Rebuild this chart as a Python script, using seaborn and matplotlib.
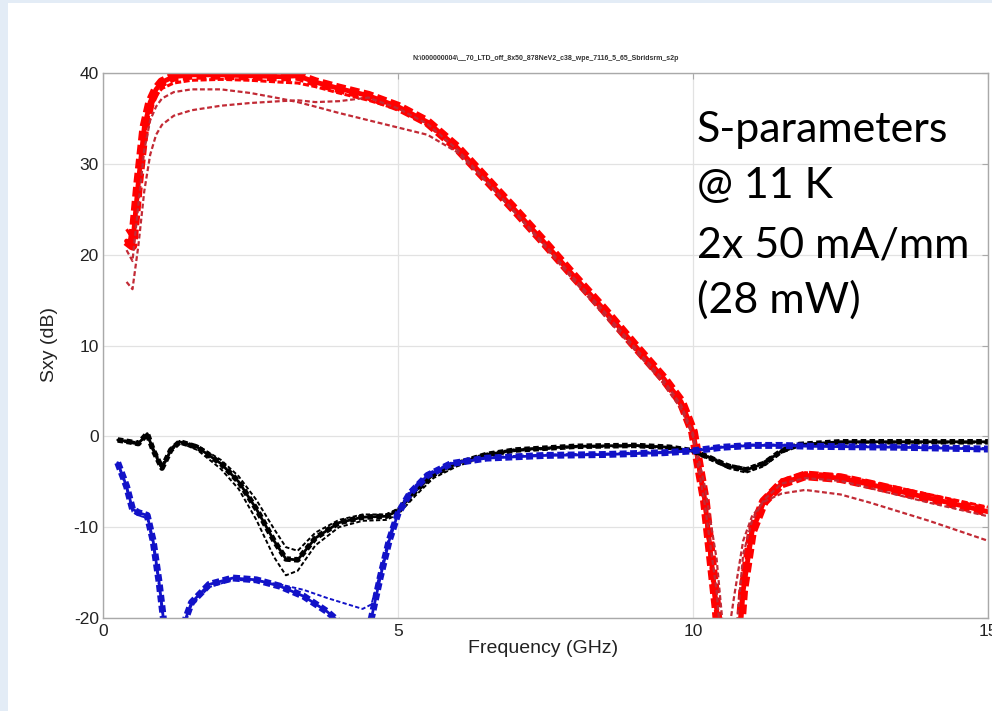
import matplotlib
matplotlib.use("Agg")
import matplotlib.pyplot as plt
import seaborn as sns
from matplotlib.patches import Rectangle

# Data (Frequency in GHz, S-parameters in dB)
freq_s21 = [0.40, 0.50, 0.60, 0.70, 0.80, 0.90, 1.00, 1.20, 1.50, 2.00,
            2.50, 3.00, 3.30, 3.60, 4.00, 4.50, 5.00, 5.50, 6.00, 6.50,
            7.00, 7.50, 8.00, 8.50, 9.00, 9.50, 9.80, 10.00, 10.20, 10.40,
            10.55, 10.70, 10.85, 11.00, 11.20, 11.50, 11.90, 12.50, 13.00, 14.00,
            15.00]
s21_main = [21.5, 21.0, 28.0, 34.0, 36.8, 38.2, 39.0, 39.6, 39.8, 39.8,
            39.7, 39.6, 39.7, 39.0, 38.3, 37.5, 36.3, 34.6, 31.8, 28.3,
            24.8, 21.2, 17.5, 13.9, 10.1, 6.4, 3.8, 0.5, -7.0, -19.0,
            -32.0, -30.0, -17.0, -10.5, -7.2, -5.2, -4.3, -4.6, -5.3, -6.8,
            -8.3]
s21_a = [17.0, 16.2, 21.0, 27.0, 31.0, 33.2, 34.3, 35.3, 35.9, 36.4,
         36.7, 36.9, 37.0, 36.8, 36.9, 37.3, 36.1, 34.4, 31.6, 28.1,
         24.6, 21.0, 17.3, 13.7, 9.9, 6.2, 3.4, 0.3, -5.5, -13.5,
         -24.0, -17.5, -11.5, -8.8, -7.2, -6.3, -5.9, -6.4, -7.3, -9.3,
         -11.5]
s21_b = [20.5, 19.3, 25.5, 31.5, 34.8, 36.3, 37.2, 37.9, 38.2, 38.2,
         37.8, 37.2, 36.8, 36.3, 35.6, 34.8, 34.0, 33.2, 31.3, 28.0,
         24.5, 20.8, 17.0, 13.3, 9.6, 5.8, 3.0, 0.0, -7.5, -17.0,
         -29.0, -24.0, -13.0, -9.3, -7.0, -5.2, -4.6, -4.9, -5.7, -7.3,
         -8.8]
s21_c = [22.8, 21.8, 27.5, 33.0, 36.0, 37.5, 38.3, 38.9, 39.2, 39.3,
         39.2, 39.0, 38.9, 38.5, 37.8, 37.0, 36.0, 34.3, 31.6, 28.1,
         24.6, 21.0, 17.3, 13.6, 9.8, 6.0, 3.3, 0.2, -7.8, -20.5,
         -31.0, -27.0, -15.5, -9.8, -6.8, -4.8, -4.0, -4.3, -5.0, -6.4,
         -7.8]

freq_s11 = [0.25, 0.45, 0.60, 0.75, 0.85, 1.00, 1.15, 1.30, 1.60, 2.00,
            2.30, 2.60, 2.90, 3.10, 3.30, 3.60, 4.00, 4.40, 4.80, 5.00,
            5.30, 5.60, 6.00, 6.50, 7.00, 8.00, 9.00, 9.60, 10.00, 10.30,
            10.60, 10.90, 11.20, 11.50, 11.80, 12.50, 13.50, 15.00]
s11_main = [-0.4, -0.6, -0.8, 0.3, -1.5, -3.5, -1.5, -0.6, -1.2, -3.0,
            -5.0, -8.0, -11.5, -13.5, -13.6, -11.2, -9.5, -8.9, -8.8, -8.2,
            -6.0, -4.2, -3.0, -2.0, -1.5, -1.1, -1.0, -1.2, -1.6, -2.4,
            -3.3, -3.7, -3.0, -1.6, -0.9, -0.6, -0.6, -0.6]
s11_b = [-0.4, -0.5, -0.7, 0.1, -1.3, -3.2, -1.3, -0.5, -1.0, -2.6,
         -4.4, -7.0, -10.2, -12.2, -12.6, -10.6, -9.2, -8.6, -8.6, -8.0,
         -5.6, -3.9, -2.8, -1.9, -1.4, -1.1, -1.0, -1.2, -1.6, -2.3,
         -3.1, -3.5, -2.8, -1.5, -0.9, -0.6, -0.6, -0.6]
s11_c = [-0.5, -0.7, -0.9, 0.2, -1.6, -3.6, -1.6, -0.7, -1.5, -3.6,
         -5.8, -9.2, -13.3, -15.3, -14.8, -12.0, -10.0, -9.3, -9.2, -8.6,
         -6.5, -4.6, -3.3, -2.2, -1.6, -1.2, -1.1, -1.3, -1.7, -2.6,
         -3.5, -4.0, -3.3, -1.8, -1.0, -0.7, -0.7, -0.7]

freq_s22 = [0.25, 0.40, 0.50, 0.60, 0.75, 0.85, 0.95, 1.05, 1.20, 1.35,
            1.50, 1.80, 2.20, 2.60, 3.00, 3.40, 3.80, 4.10, 4.40, 4.55,
            4.70, 4.85, 5.00, 5.20, 5.50, 5.90, 6.50, 7.50, 8.50, 9.50,
            10.00, 10.50, 11.00, 11.50, 12.00, 13.50, 15.00]
s22_main = [-2.9, -5.5, -8.0, -8.4, -8.7, -11.5, -16.0, -21.5, -27.0, -21.0,
            -18.3, -16.3, -15.6, -15.8, -16.5, -17.6, -19.3, -21.0, -23.0, -20.0,
            -15.5, -11.5, -8.5, -6.3, -4.3, -3.0, -2.4, -2.1, -2.0, -1.8,
            -1.6, -1.2, -1.0, -1.0, -1.1, -1.2, -1.4]
s22_b = [-3.0, -5.8, -8.3, -8.7, -9.0, -12.0, -16.5, -22.0, -27.5, -21.5,
         -18.6, -16.6, -15.8, -15.9, -16.3, -16.9, -17.8, -18.4, -19.0, -18.5,
         -15.0, -11.0, -8.2, -6.0, -4.1, -2.9, -2.3, -2.0, -1.9, -1.7,
         -1.5, -1.1, -0.9, -0.9, -1.0, -1.1, -1.3]

x_ticks = [0, 5, 10, 15]
y_ticks = [-20, -10, 0, 10, 20, 30, 40]
file_title = "N:\\000000004\\__70_LTD_off_8x50_878NeV2_c38_wpe_7116_5_65_Sbridsrm_s2p"
note_lines = ["S-parameters", "@ 11 K", "2x 50 mA/mm", "(28 mW)"]

sns.set_style("white")
plt.rcParams['font.family'] = ['Liberation Sans', 'DejaVu Sans']
plt.rcParams['axes.unicode_minus'] = False

fig = plt.figure(figsize=(9.92, 7.11), dpi=100)
fig.patch.set_facecolor('#e3ecf6')
# white slide area, leaving a thin light-blue margin at left and top
fig.patches.append(Rectangle((8 / 992, 0), 1, 1 - 3 / 711, transform=fig.transFigure,
                             facecolor='white', edgecolor='none', zorder=-10))

ax = fig.add_axes([0.1038, 0.1308, 0.8922, 0.7665])
ax.set_facecolor('white')

red = '#ff0000'
dark_red = '#c22a35'
black = '#000000'
blue = '#1212c8'

# S21 - red band and outliers
sns.lineplot(x=freq_s21, y=s21_main, ax=ax, color=red, lw=3.5, estimator=None)
sns.lineplot(x=freq_s21, y=s21_main, ax=ax, color=red, lw=7.0, linestyle=(0, (1.0, 0.45)), estimator=None)
sns.lineplot(x=freq_s21, y=s21_c, ax=ax, color=red, lw=2.2, linestyle=(0, (2.0, 0.8)), estimator=None)
sns.lineplot(x=freq_s21, y=s21_b, ax=ax, color=dark_red, lw=1.6, linestyle=(0, (2.2, 1.2)), estimator=None)
sns.lineplot(x=freq_s21, y=s21_a, ax=ax, color=dark_red, lw=1.6, linestyle=(0, (2.2, 1.2)), estimator=None)

# S11 - black
sns.lineplot(x=freq_s11, y=s11_main, ax=ax, color=black, lw=2.0, estimator=None)
sns.lineplot(x=freq_s11, y=s11_main, ax=ax, color=black, lw=4.0, linestyle=(0, (1.0, 0.6)), estimator=None)
sns.lineplot(x=freq_s11, y=s11_b, ax=ax, color=black, lw=1.4, linestyle=(0, (2.2, 1.2)), estimator=None)
sns.lineplot(x=freq_s11, y=s11_c, ax=ax, color=black, lw=1.4, linestyle=(0, (2.2, 1.2)), estimator=None)

# S22 - blue
sns.lineplot(x=freq_s22, y=s22_main, ax=ax, color=blue, lw=2.0, estimator=None)
sns.lineplot(x=freq_s22, y=s22_main, ax=ax, color=blue, lw=5.0, linestyle=(0, (1.0, 0.5)), estimator=None)
sns.lineplot(x=freq_s22, y=s22_b, ax=ax, color=blue, lw=1.4, linestyle=(0, (2.2, 1.2)), estimator=None)

ax.set_xlim(0, 15)
ax.set_ylim(-20, 40)
ax.set_xticks(x_ticks)
ax.set_yticks(y_ticks)
ax.grid(True, color='#e2e2e2', lw=0.9)
ax.set_axisbelow(True)
for s in ax.spines.values():
    s.set_color('#a9a9a9')
    s.set_linewidth(1.0)
ax.tick_params(direction='in', length=4, color='#a9a9a9', labelsize=12.5,
               labelcolor='#222222', top=True, right=True, pad=4)
ax.tick_params(axis='y', pad=3)

ax.set_xlabel('Frequency (GHz)', fontsize=14, color='#222222')
ax.set_ylabel('Sxy (dB)', fontsize=14, color='#222222')
ax.xaxis.set_label_coords(0.497, -0.040)
ax.yaxis.set_label_coords(-0.051, 0.501)
ax.text(0.5, 1.027, file_title, transform=ax.transAxes, ha='center', va='center',
        fontsize=5, fontweight='bold', color='#333333')

note_y = [0.873, 0.771, 0.662, 0.561]
for line, yy in zip(note_lines, note_y):
    ax.text(0.671, yy, line, transform=ax.transAxes, ha='left', va='baseline',
            fontsize=31, family=['Lato', 'DejaVu Sans'], color='black')

fig.savefig('out.png', dpi=100, facecolor=fig.get_facecolor())
